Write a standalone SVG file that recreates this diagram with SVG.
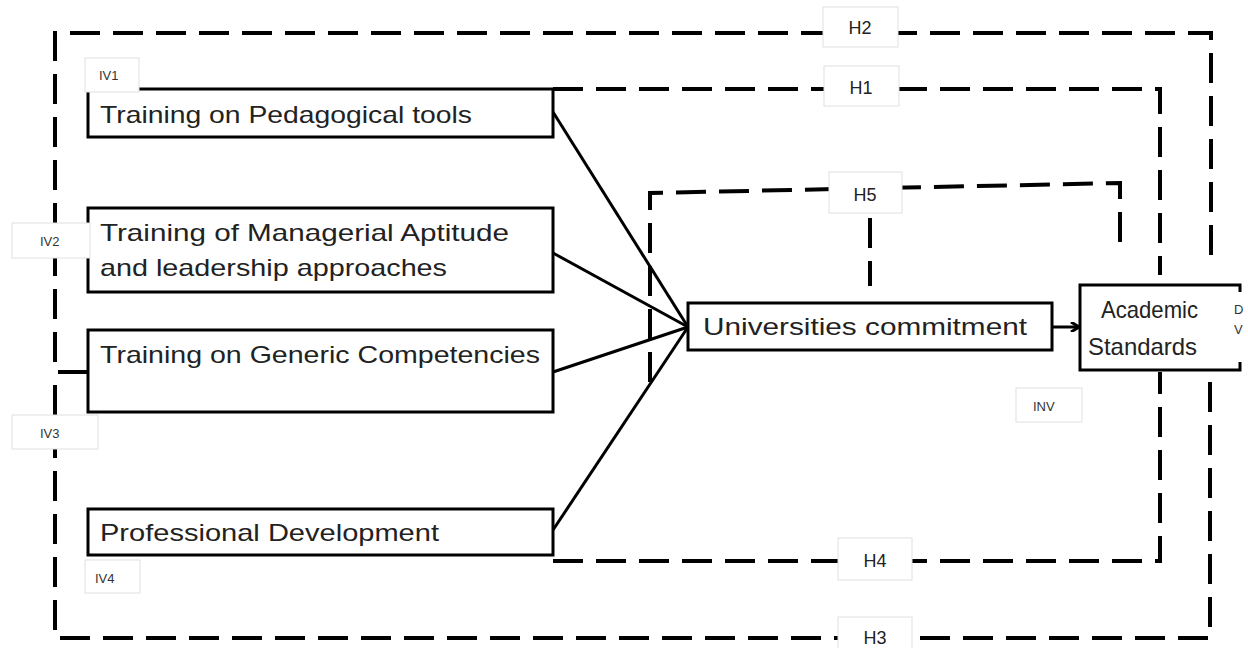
<svg xmlns="http://www.w3.org/2000/svg" width="1248" height="648" viewBox="0 0 1248 648">
<defs>
<marker id="arr" markerWidth="10" markerHeight="10" refX="8" refY="5" orient="auto" markerUnits="userSpaceOnUse">
<path d="M1,0 L9,5 L1,10" fill="none" stroke="#000" stroke-width="3"/>
</marker>
<style>
.dash{fill:none;stroke:#000;stroke-width:4;stroke-dasharray:30 13}
.solid{fill:none;stroke:#000;stroke-width:3}
.box{fill:#fff;stroke:#000;stroke-width:3}
.tag{fill:#fff;stroke:#e0e0e0;stroke-width:1}
.t{font-family:"Liberation Sans",Arial,sans-serif;font-size:24px;fill:#222}
.s{font-family:"Liberation Sans",Arial,sans-serif;font-size:13px;fill:#333}
.h{font-family:"Liberation Sans",Arial,sans-serif;font-size:18px;fill:#222;text-anchor:middle}
</style>
</defs>
<rect width="1248" height="648" fill="#fff"/>
<g id="connectors">
<path class="dash" d="M88,372 H55 V33 H1211 V265"/>
<path class="dash" d="M55,385 V638 H1210 V375"/>
<path class="dash" d="M553,89 H1160 V275"/>
<path class="dash" d="M553,561 H1160 V372"/>
<path class="dash" d="M650,382 V193 L1120,183 V252"/>
<path class="dash" d="M870,218 V286"/>
<line class="solid" x1="553" y1="112" x2="688" y2="327"/>
<line class="solid" x1="553" y1="253" x2="688" y2="327"/>
<line class="solid" x1="553" y1="372" x2="688" y2="327"/>
<line class="solid" x1="553" y1="530" x2="688" y2="327"/>
<line class="solid" x1="1052" y1="327" x2="1078" y2="327" marker-end="url(#arr)"/>
</g>
<g id="n-iv1">
<rect class="box" x="88" y="89" width="465" height="48"/>
<text class="t" x="100" y="123" textLength="372" lengthAdjust="spacingAndGlyphs">Training on Pedagogical tools</text>
<rect class="tag" x="85" y="58" width="54" height="34"/>
<text class="s" x="99" y="80">IV1</text>
</g>
<g id="n-iv2">
<rect class="box" x="88" y="208" width="465" height="84"/>
<text class="t" x="100" y="241" textLength="409" lengthAdjust="spacingAndGlyphs">Training of Managerial Aptitude</text>
<text class="t" x="100" y="276" textLength="347" lengthAdjust="spacingAndGlyphs">and leadership approaches</text>
<rect class="tag" x="12" y="223" width="78" height="35"/>
<text class="s" x="40" y="246">IV2</text>
</g>
<g id="n-iv3">
<rect class="box" x="88" y="330" width="465" height="82"/>
<text class="t" x="100" y="363" textLength="440" lengthAdjust="spacingAndGlyphs">Training on Generic Competencies</text>
<rect class="tag" x="12" y="415" width="86" height="34"/>
<text class="s" x="40" y="438">IV3</text>
</g>
<g id="n-iv4">
<rect class="box" x="88" y="509" width="465" height="46"/>
<text class="t" x="100" y="541" textLength="339" lengthAdjust="spacingAndGlyphs">Professional Development</text>
<rect class="tag" x="85" y="560" width="55" height="33"/>
<text class="s" x="95" y="583">IV4</text>
</g>
<g id="n-uc">
<rect class="box" x="688" y="303" width="364" height="47"/>
<text class="t" x="703" y="335" textLength="324" lengthAdjust="spacingAndGlyphs">Universities commitment</text>
</g>
<g id="n-as">
<path class="box" d="M1240,292 V285 H1080 V370 H1240 V362"/>
<text class="t" x="1101" y="318" textLength="97" lengthAdjust="spacingAndGlyphs">Academic</text>
<text class="t" x="1088" y="355" textLength="109" lengthAdjust="spacingAndGlyphs">Standards</text>
<text class="s" x="1234" y="314" font-size="10">D</text>
<text class="s" x="1234" y="334" font-size="10">V</text>
</g>
<g id="n-inv">
<rect class="tag" x="1016" y="388" width="66" height="34"/>
<text class="s" x="1033" y="411">INV</text>
</g>
<g id="labels">
<rect class="tag" x="823" y="7" width="75" height="40"/><text class="h" x="860" y="34">H2</text>
<rect class="tag" x="824" y="66" width="75" height="40"/><text class="h" x="861" y="94">H1</text>
<rect class="tag" x="829" y="172" width="73" height="41"/><text class="h" x="865" y="201">H5</text>
<rect class="tag" x="838" y="538" width="74" height="42"/><text class="h" x="875" y="567">H4</text>
<rect class="tag" x="838" y="617" width="74" height="40"/><text class="h" x="875" y="644">H3</text>
</g>
</svg>
